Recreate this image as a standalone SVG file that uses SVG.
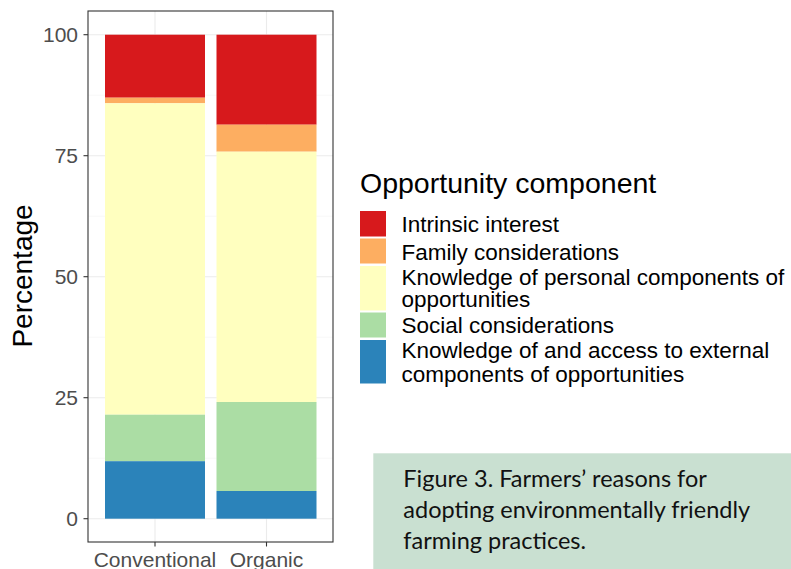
<svg xmlns="http://www.w3.org/2000/svg" width="791" height="569" viewBox="0 0 791 569">
<style>
.grid{stroke:#ebebeb;stroke-width:1.1;fill:none}
.gridm{stroke:#f3f3f3;stroke-width:0.6;fill:none}
.tick{stroke:#333;stroke-width:1.1}
.tl{font-family:"Liberation Sans",Arial,sans-serif;font-size:21px;fill:#4d4d4d}
.leg{font-family:"Liberation Sans",Arial,sans-serif;font-size:22.5px;fill:#000}
.cap{font-family:Lato,"Liberation Sans",sans-serif;font-size:23.5px;fill:#111}
.r{fill:#d7191c}.o{fill:#fdae61}.y{fill:#ffffbf}.g{fill:#abdda4}.b{fill:#2b83ba}
</style>
<rect width="791" height="569" fill="#fff"/>
<g id="panel">
<rect x="88" y="11" width="245" height="531" fill="#fff"/>
<g class="gridm">
<line x1="88" x2="333" y1="95.2" y2="95.2"/>
<line x1="88" x2="333" y1="216.2" y2="216.2"/>
<line x1="88" x2="333" y1="337.2" y2="337.2"/>
<line x1="88" x2="333" y1="458.2" y2="458.2"/>
</g>
<g class="grid">
<line x1="88" x2="333" y1="34.7" y2="34.7"/>
<line x1="88" x2="333" y1="155.7" y2="155.7"/>
<line x1="88" x2="333" y1="276.7" y2="276.7"/>
<line x1="88" x2="333" y1="397.7" y2="397.7"/>
<line x1="88" x2="333" y1="518.7" y2="518.7"/>
<line x1="155" x2="155" y1="11" y2="542"/>
<line x1="266.5" x2="266.5" y1="11" y2="542"/>
</g>
</g>
<g id="bar-conventional">
<rect class="r" x="105" y="34.7" width="100" height="63"/>
<rect class="o" x="105" y="97.7" width="100" height="5.6"/>
<rect class="y" x="105" y="103.3" width="100" height="311.4"/>
<rect class="g" x="105" y="414.7" width="100" height="46.5"/>
<rect class="b" x="105" y="461.2" width="100" height="57.5"/>
</g>
<g id="bar-organic">
<rect class="r" x="216.5" y="34.7" width="100" height="90"/>
<rect class="o" x="216.5" y="124.7" width="100" height="27"/>
<rect class="y" x="216.5" y="151.7" width="100" height="250.3"/>
<rect class="g" x="216.5" y="402" width="100" height="89"/>
<rect class="b" x="216.5" y="491" width="100" height="27.7"/>
</g>
<g id="axes">
<rect x="88" y="11" width="245" height="531" fill="none" stroke="#333" stroke-width="1.1"/>
<g class="tick">
<line x1="83.5" x2="88" y1="34.7" y2="34.7"/>
<line x1="83.5" x2="88" y1="155.7" y2="155.7"/>
<line x1="83.5" x2="88" y1="276.7" y2="276.7"/>
<line x1="83.5" x2="88" y1="397.7" y2="397.7"/>
<line x1="83.5" x2="88" y1="518.7" y2="518.7"/>
<line x1="155" x2="155" y1="542" y2="546.5"/>
<line x1="266.5" x2="266.5" y1="542" y2="546.5"/>
</g>
<g class="tl" text-anchor="end">
<text x="78" y="42.2">100</text>
<text x="78" y="163.2">75</text>
<text x="78" y="284.2">50</text>
<text x="78" y="405.2">25</text>
<text x="78" y="526.2">0</text>
</g>
<g class="tl" text-anchor="middle">
<text x="155" y="567">Conventional</text>
<text x="266.5" y="567">Organic</text>
</g>
<text transform="translate(32,276) rotate(-90)" text-anchor="middle" font-family="Liberation Sans,Arial,sans-serif" font-size="28" fill="#000">Percentage</text>
</g>
<g id="legend">
<text x="360" y="193" font-family="Liberation Sans,Arial,sans-serif" font-size="28.5" fill="#000">Opportunity component</text>
<rect class="r" x="360" y="211" width="26" height="25.5"/>
<rect class="o" x="360" y="238.5" width="26" height="25"/>
<rect class="y" x="360" y="266" width="26" height="44.5"/>
<rect class="g" x="360" y="312.5" width="26" height="25"/>
<rect class="b" x="360" y="340" width="26" height="43.5"/>
<g class="leg">
<text x="401.5" y="231.5">Intrinsic interest</text>
<text x="401.5" y="259.5">Family considerations</text>
<text x="401.5" y="285">Knowledge of personal components of</text>
<text x="401.5" y="306.7">opportunities</text>
<text x="401.5" y="333.3">Social considerations</text>
<text x="401.5" y="358.3">Knowledge of and access to external</text>
<text x="401.5" y="381.7">components of opportunities</text>
</g>
</g>
<g id="caption">
<rect x="373.3" y="453.3" width="418" height="116" fill="#c9e0d1"/>
<g class="cap">
<text x="403.3" y="487">Figure 3. Farmers’ reasons for</text>
<text x="403.3" y="518">adopting environmentally friendly</text>
<text x="403.3" y="548.5">farming practices.</text>
</g>
</g>
</svg>
